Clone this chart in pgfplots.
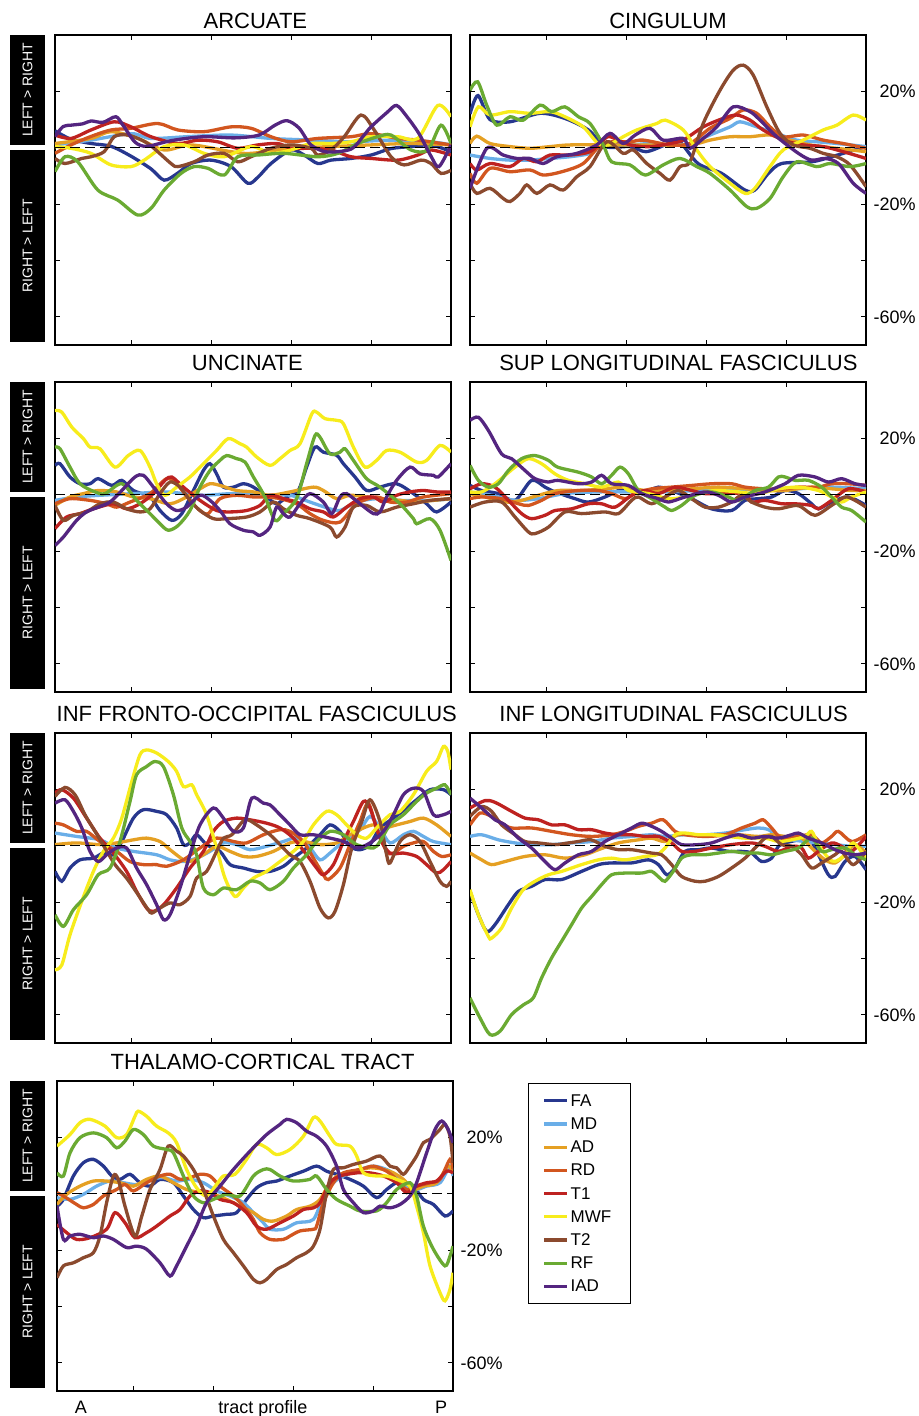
\documentclass[border=0pt]{standalone}
\usepackage{fontspec}
\setmainfont{Liberation Sans}
\usepackage{pgfplots}
\pgfplotsset{compat=1.18}

\definecolor{cFA}{HTML}{27378E}
\definecolor{cMD}{HTML}{6AAEE8}
\definecolor{cAD}{HTML}{E5A023}
\definecolor{cRD}{HTML}{D2561F}
\definecolor{cT1}{HTML}{BE2220}
\definecolor{cMWF}{HTML}{F7EC1C}
\definecolor{cT2}{HTML}{8B4A2E}
\definecolor{cRF}{HTML}{6AAA32}
\definecolor{cIAD}{HTML}{542580}

\pgfplotsset{
  panel/.style={
    scale only axis, width=198pt, height=155pt, anchor=north west,
    xmin=1, xmax=100, ymin=-70, ymax=40,
    xtick={20,40,60,80}, xticklabels={},
    ytick={-60,-40,-20,0,20}, yticklabels={},
    tick align=inside, tick pos=both, major tick length=2.5pt,
    axis line style={line width=0.6pt},
    tick style={line width=0.5pt, black},
    every axis title/.style={font=\fontsize{11}{13}\selectfont, anchor=base, at={(0.5,1)}, yshift=5.8pt},
    every axis plot/.append style={line width=1.65pt, smooth, tension=0.5},
  },
  rlabels/.style={
    yticklabel pos=right,
    yticklabels={-60\%,,-20\%,,20\%},
    yticklabel style={font=\fontsize{9}{11}\selectfont, anchor=east, xshift=25pt, inner sep=0pt},
  },
  FA/.style={color=cFA}, MD/.style={color=cMD}, AD/.style={color=cAD},
  RD/.style={color=cRD}, T1/.style={color=cT1}, MWF/.style={color=cMWF},
  T2/.style={color=cT2}, RF/.style={color=cRF}, IAD/.style={color=cIAD},
  zero/.style={black, line width=0.5pt, dash pattern=on 5pt off 2.5pt, sharp plot, forget plot},
}
\newcommand{\lgd}[1]{\makebox[22pt][l]{#1}}

\begin{document}
\begin{tikzpicture}
\path[use as bounding box] (0pt,0pt) rectangle (459.5pt,-708pt);

% side labels
\fill[black] (5pt,-17.5pt) rectangle (22.5pt,-72.5pt);
\fill[black] (5pt,-75pt) rectangle (22.5pt,-171pt);
\fill[black] (5pt,-191pt) rectangle (22.5pt,-246pt);
\fill[black] (5pt,-248.5pt) rectangle (22.5pt,-344.5pt);
\fill[black] (5pt,-366.5pt) rectangle (22.5pt,-421.5pt);
\fill[black] (5pt,-424pt) rectangle (22.5pt,-520pt);
\fill[black] (5pt,-540.5pt) rectangle (22.5pt,-595.5pt);
\fill[black] (5pt,-598pt) rectangle (22.5pt,-694pt);
\foreach \a/\b in {-45/-123,-218.5/-296.5,-394/-472,-568/-646}{
  \node[rotate=90, text=white, font=\fontsize{7}{8}\selectfont] at (13.75pt,\a pt) {LEFT > RIGHT};
  \node[rotate=90, text=white, font=\fontsize{7}{8}\selectfont] at (13.75pt,\b pt) {RIGHT > LEFT};
}

% ARCUATE
\begin{axis}[panel, at={(27.5pt,-17.5pt)}, title={ARCUATE}, title style={yshift=-2.6pt, xshift=1.2pt}]
\addplot[FA] coordinates {(1,6) (5,3) (10,1.5) (15,0.5) (20,-3) (25,-7.5) (28.3,-11.5) (31.7,-9) (35,-5.6) (40,-4.4) (45,-6.7) (49.2,-12.6) (51.7,-10.5) (55,-5.6) (60,-0.8) (63.3,-2.6) (66.7,-5.6) (70,-4.4) (75,-3.8) (80,-2.6) (85,-0.3) (90,0.4) (95,1) (100,-1.4)};
\addplot[MD] coordinates {(1,1) (10,2.7) (20,5) (25,3.3) (35,4) (45,4.5) (55,3.3) (65,2.7) (75,2.1) (85,2.7) (95,2.1) (100,1)};
\addplot[AD] coordinates {(1,1.5) (10,3.3) (15,5.7) (21.7,3.3) (28.3,-0.8) (35,1) (45,-1.4) (50,-2) (60,-0.2) (70,0.4) (80,1) (90,1.5) (100,1)};
\addplot[RD] coordinates {(1,-2) (5,1) (10,4) (15,6.3) (20,6.9) (26.7,8.6) (31.7,6.3) (38.3,5.7) (45,7.4) (50,6.9) (55,3.9) (60,2.1) (66.7,3.3) (75,3.9) (80,5) (86.7,3.3) (91.7,2.7) (100,1)};
\addplot[T1] coordinates {(1,4.5) (5,3.3) (10,6.3) (15.8,9.2) (20,7.4) (25,3.9) (31.7,1.5) (36.7,2.7) (41.7,2.1) (46.7,-0.2) (51.7,1) (56.7,1.5) (60,-0.2) (65,-0.2) (70,-0.8) (75,-3.2) (80,-3.8) (86.7,-4.4) (91.7,-2.6) (95,-0.8) (100,-2.6)};
\addplot[MWF] coordinates {(1,0.4) (5,-0.2) (10,-2) (15,-6.1) (20,-6.7) (23.3,-4.4) (28.3,0.4) (33.3,1) (38.3,-2) (43.3,-3.2) (50,0.4) (55,-2) (60,-0.8) (65,1.5) (70,1.5) (75,2.1) (80,3.9) (86.7,3.9) (91.7,3.3) (96.7,15) (100,11)};
\addplot[T2] coordinates {(1,-3.8) (3.5,-5.6) (7.7,-3.8) (10,-3.2) (13.3,-1.4) (15.8,3.9) (19.2,4.5) (24.2,1.5) (30,-5.6) (31.7,-6.7) (35.8,-5) (39.2,-2.6) (43.3,-2) (46.7,-5) (50,-3.2) (55,-0.2) (60,1) (65,-0.2) (66.7,-2.6) (70,-0.8) (73.3,3.9) (77.5,11.6) (80.8,6.3) (85,-3.2) (88.3,-6.1) (92.5,-4.4) (95,-5.6) (97.5,-9.1) (100,-8)};
\addplot[RF] coordinates {(1,-8.5) (3.5,-3.2) (6.7,-5) (11.7,-15) (16.7,-18.6) (21.7,-23.9) (25,-21.5) (28.3,-15) (32.5,-9.1) (35.8,-6.7) (39.2,-7.3) (43.3,-9.7) (46.7,-3.2) (51.7,-2.6) (58.3,-2) (66.7,-3.2) (71.7,-2) (76.7,1.5) (81.7,3.9) (85,4.5) (90,-0.8) (94.2,-0.8) (97.5,8) (100,1.5)};
\addplot[IAD] coordinates {(1,4) (3,7.5) (5,8) (8,8.5) (10,9.5) (13,9) (16.2,11) (18,8) (21,2) (24,0.5) (30,2.5) (38,3.9) (46,3.5) (52,4.5) (56,8) (59,9.6) (62,7) (65,1) (69,-1.5) (75,-0.5) (78,4) (80,7.4) (84,12.5) (86.4,15) (89,11) (92,5) (95,-3) (97,-6.7) (100,1)};
\addplot[zero] coordinates {(1,0) (100,0)};
\end{axis}

% CINGULUM
\begin{axis}[panel, rlabels, at={(235pt,-17.5pt)}, title={CINGULUM}, title style={yshift=-2.6pt}]
\addplot[FA] coordinates {(1,12) (3,18.5) (6,10) (11,9.2) (18.5,12.2) (24.7,10.4) (30.6,6.3) (34.8,0.4) (41,0.4) (45,-1.4) (49.8,1) (53,2.7) (58,-5.6) (63.9,-9.1) (69.7,-15) (72.2,-15) (75.6,-9.1) (78.9,-5.6) (86.4,-5) (91.4,-3.2) (100,0.4)};
\addplot[MD] coordinates {(1,-2.6) (6,-3.8) (11,-4.4) (16,-4.4) (21,-3.8) (26,-3.2) (31,-2) (34.3,1) (41,1) (46,1.5) (51,1) (56,1.5) (61,4.5) (66,7.4) (68.5,9.2) (72.7,7.4) (77.7,5) (82.7,2.7) (87.7,2.1) (92.7,1.5) (100,0.4)};
\addplot[AD] coordinates {(1,1.5) (2.7,4.1) (6,1.5) (11,0.4) (16,-0.2) (21,0.4) (26,1) (36,1) (46,1) (56,1) (61,2.7) (66,3.9) (71,3.9) (76,4.5) (81,2.7) (86,1) (92.7,-0.2) (100,-1.4)};
\addplot[RD] coordinates {(1,-9.1) (2.7,-12.6) (6,-7.3) (11,-8.5) (16,-7.9) (19.3,-9.7) (24,-8.5) (29.3,-5.6) (34.3,1.5) (41,2.1) (44.3,2.7) (51,1) (56,1.5) (61,6.9) (66,10.4) (69.3,13.4) (72.7,12.2) (76,7.4) (79.3,3.9) (84.3,4.5) (89.3,2.7) (94.3,1.5) (100,-0.2)};
\addplot[T1] coordinates {(1,-5.6) (2.7,-7.9) (6,-5.6) (11,-6.7) (14.3,-3.8) (17.7,-5) (21,-2.6) (26,-2.6) (31,-1.4) (34.3,2.7) (36,3.9) (41,1) (46,0.4) (51,1.5) (54.3,2.7) (59.3,7.4) (64.3,10.4) (67.7,11.6) (71,9.8) (74.3,6.3) (79.3,2.7) (84.3,1) (89.3,0.4) (94.3,-1.4) (100,-3.8)};
\addplot[MWF] coordinates {(1,7.4) (3.1,14.5) (6,11.6) (11,12.8) (16,12.2) (21,12.8) (24.7,11) (29.3,7.4) (33,1.5) (35.6,1) (39.3,3.9) (42.7,6.3) (47.7,8.6) (49.8,9.8) (54.3,6.3) (57.7,-0.8) (61,-6.7) (66,-12.6) (69.8,-16.2) (72.2,-14.4) (76,-6.7) (79.3,-0.8) (84.3,2.7) (89.3,6.3) (92.7,8) (96.8,11.6) (100,9.8)};
\addplot[T2] coordinates {(1,-12.6) (2.7,-16.2) (6,-14.4) (9.3,-18) (11,-19.1) (13.5,-16.2) (15.2,-13.2) (17.7,-16.2) (21,-13.2) (24.3,-15) (27.7,-10.3) (31,-6.7) (35.2,2.1) (39.3,-2) (41.8,-0.8) (45.2,-5.6) (48.5,-9.1) (51,-11.5) (53.5,-6.7) (56,-5) (59.3,8.6) (63.5,20.4) (66.8,27.5) (69.3,29.3) (71.8,25.8) (75.2,14.5) (78.5,5.1) (81.8,1) (86,-0.2) (89.3,-2) (92.7,-3.2) (96,-6.1) (100,-13.8)};
\addplot[RF] coordinates {(1,20.4) (2.9,23.4) (5.2,15) (7.7,8) (11,11) (14.3,9.8) (18.5,15.1) (21.4,12.8) (24.7,14.5) (28.1,11) (31,8.6) (34.3,1) (36.4,-5) (41,-6.1) (44.8,-9.7) (49.3,-6.1) (53.5,-3.8) (57.7,-6.7) (61,-9.1) (66,-15) (70.2,-20.9) (72.7,-21.5) (76,-18) (79.3,-10.3) (82.7,-5) (87.7,-6.7) (91,-5.6) (96,-6.7) (100,-5.6)};
\addplot[IAD] coordinates {(1,-14.4) (5.2,-0.2) (9.3,-2.6) (12.7,-3.8) (16,-3.8) (19.3,-5.6) (22.7,-3.2) (27.7,-2) (32.7,1) (36,5.1) (39.3,1.5) (42.3,4.5) (46,6.9) (49.3,2.7) (54.3,3.3) (56,-0.2) (59.3,3.3) (62.7,7.4) (66.8,14.5) (71,12.8) (73.5,9.8) (77.7,3.9) (83.1,-2) (86.4,-4.4) (89.8,-3.8) (93.1,-5.6) (96.8,-12.6) (100,-16.2)};
\addplot[zero] coordinates {(1,0) (100,0)};
\end{axis}

% UNCINATE
\begin{axis}[panel, at={(27.5pt,-191pt)}, title={UNCINATE}, title style={xshift=-2.8pt}]
\addplot[FA] coordinates {(1,10.4) (2.25,11) (4.75,6.3) (7.25,3.9) (9.75,3.9) (11.8,5.7) (15.2,3.3) (17.7,5.1) (20.6,1.5) (24.75,-0.8) (27.25,-5.6) (30.2,-9.1) (32.7,-6.7) (35.6,1.5) (38.1,8.6) (39.75,11) (41.4,7.4) (43.1,2.7) (45.6,2.7) (48.1,3.9) (50.6,2.7) (53.9,-0.8) (56.4,-3.2) (58.9,-0.8) (61.8,1.5) (63.9,9.8) (66,16.9) (68.1,15.1) (71.4,14) (73.1,11) (76,6.3) (78.9,1.5) (82.25,2.7) (86.4,3.9) (90.6,0.4) (93.9,-3.2) (96.4,-6.1) (100,-2.6)};
\addplot[MD] coordinates {(1,-2) (6.4,-0.8) (12.25,-0.2) (20.6,0.4) (28.9,1) (37.25,-0.2) (45.6,0.4) (53.9,-0.2) (59.75,-0.2) (64.75,-2.6) (69.75,-5) (72.25,-5.6) (76.4,-2.6) (81.4,-1.4) (87.25,-2) (95.6,-2) (100,-1.4)};
\addplot[AD] coordinates {(1,-3.8) (4.75,-0.8) (8.1,0.4) (11.8,1.5) (16.4,1) (20.6,-0.8) (24.75,-1.4) (29.75,-3.2) (33.9,-0.8) (37.25,2.1) (39.75,3.9) (42.25,3.3) (46.4,1.5) (50.6,1) (54.75,-0.2) (59.75,1) (65.6,2.7) (68.1,1.5) (71.4,-1.4) (74.75,-0.2) (78.9,-0.8) (83.1,-1.4) (87.25,-2) (91.4,-2.6) (95.6,-2) (100,-1.4)};
\addplot[RD] coordinates {(1,-3.2) (4.75,-1.4) (9.75,-2) (13.9,-3.2) (16.4,-4.4) (19.75,-2.6) (24.75,0.4) (28.9,5.7) (31.4,3.9) (34.75,-2) (37.25,-5.6) (39.3,-6.7) (42.25,-1.4) (46.4,-0.2) (50.6,-0.8) (53.9,-0.8) (57.25,-1.4) (61.4,-3.2) (64.75,-6.7) (68.1,-9.1) (72.25,-9.7) (76.4,-3.2) (81.4,-0.8) (84.75,-2.6) (88.9,-2.6) (93.1,-0.8) (100,0.4)};
\addplot[T1] coordinates {(1,-12) (3.9,-7.9) (7.25,-6.7) (10.6,-5) (15.6,-3.2) (18.9,-5) (22.25,-3.2) (25.6,0.4) (28.5,5.1) (30.2,6.3) (33.1,2.7) (37.25,-2) (41.4,-5.6) (44.75,-6.1) (48.9,-5.6) (52.25,-3.8) (54.75,-0.2) (58.1,-1.4) (61.4,-2.6) (64.75,-5) (68.1,-6.1) (70.6,-7.9) (73.9,-4.4) (77.25,-1.4) (80.6,-0.8) (83.1,-2.6) (86.4,-0.2) (89.75,1) (93.1,1.5) (96.4,1) (100,1)};
\addplot[MWF] coordinates {(1,29.9) (2.7,29.3) (5.2,24) (8.1,19.9) (9.75,16.9) (12.25,16.3) (16,9.8) (19.3,13.9) (22.25,15.7) (24.75,9.8) (26.4,3.9) (28.5,-0.2) (31.4,2.7) (34.75,6.3) (37.25,9.8) (41.4,15.7) (44.3,19.9) (47.25,18.1) (48.9,16.9) (51.4,13.4) (54.75,10.4) (57.25,12.8) (59.75,15.7) (62.25,18.1) (65.2,28.7) (66.4,29.3) (68.5,27) (71.4,26.4) (73.1,25.2) (75.6,16.9) (78.5,9.8) (81.4,12.2) (83.9,15.7) (87.25,15.1) (91.4,11.6) (93.9,12.2) (97.25,17.5) (100,15.1)};
\addplot[T2] coordinates {(1,-3.8) (3.1,-9.1) (5.6,-7.3) (8.9,-6.1) (12.25,-3.2) (15.6,-2.6) (18.9,-5) (22.25,-6.1) (24.75,-5) (27.25,0.4) (29.75,4.5) (32.25,2.7) (34.75,-2) (37.25,-5.6) (40.6,-8.5) (43.9,-8.5) (48.9,-7.9) (52.25,-6.1) (55.6,-2.6) (58.1,-5) (61.4,-7.3) (64.75,-8.5) (69.75,-11.5) (71.4,-15) (73.5,-11.5) (75.6,-4.4) (78.9,-3.8) (82.25,-6.1) (86.4,-4.4) (90.6,-3.2) (94.75,-2) (100,-1.4)};
\addplot[RF] coordinates {(1,16.9) (2.25,16.3) (4.75,9.8) (7.25,3.9) (11,1) (13.5,0.4) (17.7,3.9) (21.4,-2) (24.75,-6.7) (27.25,-10.3) (29.3,-12.6) (31.8,-10.9) (34.75,-5.6) (37.25,2.7) (39.75,8.6) (42.25,12.2) (43.9,13.9) (46.4,12.8) (48.5,11.6) (50.6,6.3) (53.5,-0.8) (56,-9.1) (58.1,-6.7) (61.4,-1.4) (63.9,11) (66,21) (67.25,20.4) (69.75,14.5) (72.25,15.1) (73.5,16.3) (75.6,12.2) (78.9,5.7) (82.25,2.7) (87.25,-3.2) (90.6,-8.5) (91.4,-10.3) (94.75,-8.5) (97.25,-12.6) (100,-23.3)};
\addplot[IAD] coordinates {(1,-18) (3.1,-15) (6.4,-9.1) (8.9,-6.1) (11.8,-4.4) (14.75,-2.6) (17.7,1.5) (21,6.3) (23.1,6.9) (25.6,2.7) (28.9,-3.2) (31.4,-5.6) (33.9,-4.4) (37.25,-0.2) (39.75,-2) (42.25,-5.6) (44.75,-10.3) (48.1,-12.6) (50.6,-13.2) (52.25,-14.4) (54.75,-11.5) (56.4,-4.4) (58.1,-6.7) (59.75,-7.9) (62.25,-3.2) (64.75,0.4) (68.1,-2.6) (70.2,-6.7) (72.25,-0.8) (73.9,0.4) (77.25,-3.2) (80.6,-6.7) (82.25,-6.1) (83.9,-0.8) (86.4,5.1) (89.75,9.8) (92.25,7.4) (95.6,6.9) (96.8,6.3) (100,11)};
\addplot[zero] coordinates {(1,0) (100,0)};
\end{axis}

% SUP LONGITUDINAL FASCICULUS
\begin{axis}[panel, rlabels, at={(235pt,-191pt)}, title={SUP LONGITUDINAL FASCICULUS}, title style={xshift=5.2pt}]
\addplot[FA] coordinates {(1,3.3) (3.9,1.5) (8.1,0.4) (12.25,-2) (16.4,5.1) (19.75,2.7) (22.25,1) (27.25,-1.4) (30.6,-2.6) (34.75,-0.8) (38.1,1.5) (40.6,2.7) (43.9,0.4) (48.1,2.7) (52.25,1) (56.4,-1.4) (61.4,-5) (66.4,-5.6) (69.75,-2) (73.1,-1.4) (76.4,-0.8) (79.75,1.5) (83.1,0.4) (86.4,-3.2) (88.1,-5) (91.4,-2.6) (95.6,-0.8) (100,-3.8)};
\addplot[MD] coordinates {(1,1) (6.4,-0.2) (12.25,-2) (18.1,-1.4) (24.75,0.4) (33.1,1) (41.4,1) (49.75,1) (58.1,1.5) (66.4,2.1) (74.75,1.5) (83.1,2.1) (91.4,2.7) (100,2.1)};
\addplot[AD] coordinates {(1,0.4) (4.75,-0.8) (9.75,-2.6) (13.9,-2) (18.1,-0.2) (23.1,1.5) (28.9,1.5) (34.75,2.1) (39.75,2.7) (44.75,1.5) (49.75,1.5) (56.4,2.1) (63.1,2.7) (69.75,2.1) (74.75,1.5) (79.75,1.5) (86.4,2.7) (91.4,2.1) (96.4,1.5) (100,1.5)};
\addplot[RD] coordinates {(1,-1.4) (3.9,-0.8) (8.9,-1.4) (13.1,-3.2) (15.6,-3.8) (18.9,-2) (22.25,0.4) (28.1,1.5) (33.1,1.5) (36.4,0.4) (39.75,-1.4) (42.25,0.4) (46.4,2.1) (51.4,2.7) (56.4,3.3) (61.4,3.9) (66.4,3.9) (69.75,2.7) (74.75,2.1) (79.75,2.1) (83.1,2.7) (88.1,2.7) (91.4,3.9) (95.6,3.9) (100,3.3)};
\addplot[T1] coordinates {(1,2.1) (3.9,3.9) (7.25,2.7) (10.6,-2) (13.9,-6.7) (16.4,-8.5) (19.75,-7.3) (22.25,-5.6) (26.4,-5) (30.6,-3.2) (33.9,-3.2) (37.25,-4.4) (41.4,-0.2) (44.75,1.5) (48.1,0.4) (52.25,2.7) (56.4,1.5) (59.75,0.4) (64.75,0.4) (69.75,0.4) (71.4,-2.6) (74.75,-2) (78.9,-3.2) (82.25,-3.2) (86.4,-3.8) (88.1,-5) (91.4,-2) (95.6,2.1) (100,1)};
\addplot[MWF] coordinates {(1,1) (3.9,1) (7.25,3.9) (12.25,9.8) (15.6,12.8) (18.9,11) (22.25,7.4) (25.6,5.1) (29.75,3.9) (33.9,2.7) (38.1,4.5) (40.6,1.5) (45.6,0.4) (50.6,-1.4) (54.75,-0.8) (59.75,1) (63.1,1.5) (68.1,1) (73.1,0.4) (78.1,2.1) (83.1,2.7) (88.1,1.5) (91.4,-0.8) (93.9,-2.6) (96.4,-0.8) (100,1)};
\addplot[T2] coordinates {(1,-4.4) (4.75,-2.6) (8.9,-2.6) (12.25,-7.9) (15.6,-13.2) (17.25,-13.8) (20.6,-11.5) (24.75,-6.1) (28.9,-6.7) (34.75,-6.1) (38.1,-6.7) (41.4,-2) (43.1,-0.8) (46.4,-3.2) (49.75,-0.8) (53.1,1.5) (56.4,-1.4) (59.75,-4.4) (63.1,-4.4) (66.4,-2.6) (68.9,-0.2) (71.4,-2.6) (74.75,-4.4) (78.1,-5) (82.25,-3.8) (83.9,-4.4) (87.25,-7.3) (91.4,-3.8) (94.75,-0.8) (97.25,-2) (100,-4.4)};
\addplot[RF] coordinates {(1,10.4) (3.1,5.1) (5.6,2.7) (8.1,3.9) (10.6,8.6) (13.9,12.8) (17.25,13.9) (20.6,12.2) (22.9,9.8) (28.1,8) (31.4,6.3) (33.9,3.9) (36.4,6.9) (38.5,9.8) (40.6,7.4) (43.1,1.5) (46.4,-1.4) (49.75,-4.4) (51.4,-5.6) (53.9,-3.8) (57.25,-0.2) (61.4,1) (65.6,-0.8) (68.1,-2) (72.25,1.5) (75.6,2.7) (78.1,6.3) (79.75,6.3) (82.25,5.1) (85.6,5.1) (88.9,2.7) (91.4,-0.8) (93.9,-4.4) (96.4,-5.6) (100,-9.7)};
\addplot[IAD] coordinates {(1,26.4) (3.1,27.5) (5.6,22.8) (8.9,14.5) (11.4,12.8) (14.75,8.6) (17.25,5.7) (20.6,4.5) (22.9,5.1) (28.1,3.9) (31.4,4.5) (33.9,6.9) (36.4,3.9) (40.6,3.3) (43.9,0.4) (48.1,-1.4) (50.6,-2.6) (54.75,-0.8) (59.75,1) (63.1,-0.2) (66.4,-2.6) (69.75,-0.8) (74.75,1) (79.75,3.9) (83.1,6.9) (87.25,6.3) (90.6,4.5) (93.9,5.7) (97.25,3.9) (100,3.3)};
\addplot[zero] coordinates {(1,0) (100,0)};
\end{axis}

% INF FRONTO-OCCIPITAL FASCICULUS
\begin{axis}[panel, at={(27.5pt,-366.5pt)}, title={INF FRONTO-OCCIPITAL FASCICULUS}, title style={xshift=1.9pt}]
\addplot[FA] coordinates {(1,-9.1) (2.7,-12.6) (4.75,-7.9) (7.25,-5) (10.6,-4.4) (13.1,-2.6) (15.6,-3.2) (17.7,1.5) (20.6,9.8) (23.1,12.8) (26.4,12.2) (28.9,11) (31.4,6.3) (33.1,0.4) (34.75,1) (36.4,3.9) (38.9,0.4) (42.25,-2) (44.75,-6.7) (48.1,-7.9) (51.4,-9.1) (54.75,-9.1) (58.1,-7.3) (60.6,-4.4) (63.9,-0.8) (67.25,3.9) (69.75,7.4) (72.25,5.1) (74.75,-0.2) (77.25,-1.4) (79.75,0.4) (82.25,6.3) (85.6,9.8) (88.9,13.4) (91.4,16.3) (94.75,19.9) (98.1,19.9) (100,18.1)};
\addplot[MD] coordinates {(1,4.5) (6.4,3.3) (12.25,2.1) (16.4,-0.8) (20.6,-2) (26.4,-3.2) (29.75,-5) (33.1,-5.6) (36.4,-4.4) (39.75,-2) (43.1,1) (46.4,0.4) (49.75,-1.4) (53.9,-0.2) (58.1,1.5) (61.4,2.7) (64.75,-0.8) (67.25,-5) (69.75,-2.6) (73.1,1.5) (77.25,5.7) (79.75,10.4) (82.25,6.3) (84.75,1) (88.1,3.9) (90.6,5.1) (93.1,3.3) (95.6,1.5) (100,0.4)};
\addplot[AD] coordinates {(1,0.4) (6.4,1) (12.25,0.4) (16.4,1) (20.6,2.1) (23.9,2.7) (27.25,1.5) (29.75,-1.4) (33.1,-5) (34.75,-5.6) (38.1,-3.2) (41.4,-0.2) (44.75,-2) (48.1,-3.8) (51.4,-3.8) (55.6,-2) (59.75,1) (63.1,1.5) (67.25,0.4) (71.4,1) (74.75,3.9) (78.1,6.3) (80.6,7.4) (83.1,6.3) (86.4,7.4) (89.75,8.6) (93.1,9.8) (96.4,7.4) (100,3.3)};
\addplot[RD] coordinates {(1,8) (3.1,7.4) (6.4,5.1) (8.9,5.1) (12.25,1.5) (16.4,-2) (19.75,-5.6) (23.1,-6.7) (26.4,-6.7) (28.9,-7.3) (33.1,-5) (37.25,-0.8) (41.4,2.7) (45.6,1.5) (48.9,1) (53.1,3.9) (57.25,5.7) (59.75,5.1) (63.1,1.5) (65.6,-4.4) (68.1,-10.3) (69.3,-12) (72.25,-7.9) (74.75,0.4) (77.25,8.6) (79.3,15.1) (81.4,6.3) (83.9,-2) (85.6,-2.6) (88.1,-0.2) (90.6,1) (93.1,1.5) (95.6,-2) (97.7,-3.8) (100,-3.2)};
\addplot[T1] coordinates {(1,18.7) (2.7,19.9) (5.6,16.9) (8.9,9.8) (12.25,2.7) (15.6,-2.6) (18.9,-9.1) (21.4,-16.2) (23.9,-22.1) (25.6,-23.3) (28.1,-21) (31.4,-15) (34.75,-7.9) (38.1,-2) (40.6,5.1) (43.1,8.6) (46.4,9.8) (49.75,9.2) (53.9,8) (57.25,6.3) (60.6,2.7) (63.9,-3.2) (66.4,-7.9) (68.1,-10.3) (70.6,-6.7) (73.1,1.5) (75.6,8.6) (78.1,15.7) (79.75,13.4) (82.25,2.7) (84.75,-2.6) (88.1,-2.6) (91.4,-3.8) (93.9,-6.7) (96.4,-9.7) (98.1,-8.5) (100,-5.6)};
\addplot[MWF] coordinates {(1,-44) (2.7,-42.3) (4.75,-31.6) (7.7,-19.7) (10.6,-9.1) (13.1,-2) (15.6,2.7) (17.7,9.8) (20.2,22.8) (22.25,32.3) (23.9,34) (26.4,32.9) (29.3,29.9) (31.4,26.4) (33.1,21) (35.2,21.6) (36.4,18.1) (38.9,11) (41.4,-0.8) (43.5,-11.5) (46,-18) (48.1,-15) (50.6,-11.5) (53.9,-9.1) (57.25,-5.6) (60.6,-2) (63.1,1.5) (65.6,7.4) (68.9,12.2) (71.4,11) (73.9,7.4) (76.4,3.9) (78.9,2.7) (81.4,6.3) (84.75,11) (87.25,12.2) (90.6,18.1) (93.9,26.4) (96.4,29.9) (98.1,35.2) (99.2,33.4) (100,27)};
\addplot[T2] coordinates {(1,17.5) (3.5,20.7) (6,18.1) (8.5,11) (11,5.1) (13.5,-0.8) (16,-6.7) (18.9,-11.5) (21.8,-17.4) (24.3,-22.7) (25.2,-23.9) (27.25,-22.1) (29.75,-20.3) (32.25,-20.9) (34.75,-18) (36.4,-11.5) (38.9,-9.1) (41.4,-2) (43.1,2.7) (45.2,3.9) (48.5,9.2) (51.4,7.4) (54.75,3.9) (57.25,0.4) (59.75,-3.2) (62.25,-5.6) (64.75,-12.6) (67.25,-22.1) (69.3,-25.6) (71,-23.3) (73.1,-13.8) (75.2,-0.8) (77.7,8.6) (79.75,16.3) (82.25,8.6) (83.9,-3.2) (84.75,-6.1) (87.25,1.5) (89.75,3.9) (92.25,1.5) (94.75,-5.6) (97.25,-12.6) (98.9,-14.4) (100,-12.6)};
\addplot[RF] coordinates {(1,-24.5) (3.1,-28.6) (5.6,-22.7) (8.9,-17.4) (11.8,-10.3) (14.75,-7.9) (17.25,1.5) (19.75,15.7) (21.4,25.2) (23.9,28.1) (26,29.9) (28.1,28.1) (30.6,18.1) (32.7,6.3) (34.75,1.5) (36.4,-3.2) (38.1,-15) (40.6,-17.4) (43.1,-15) (46.4,-15.6) (49.75,-12.6) (52.25,-13.2) (54.75,-15.6) (58.1,-12.6) (60.6,-7.9) (63.9,-3.2) (66.4,1.5) (69.75,5.1) (73.1,3.9) (76.4,0.4) (80.6,-0.8) (82.25,1.5) (84.75,7.4) (88.1,11) (91.4,15.7) (93.9,18.7) (96.4,20.4) (98.5,21.6) (100,18.1)};
\addplot[IAD] coordinates {(1,15.1) (3.5,16.3) (5.6,12.2) (7.7,6.3) (9.75,-2) (11.8,-5.6) (13.9,-3.2) (16.4,-0.8) (18.9,-0.8) (21.4,-7.9) (23.9,-13.8) (26.4,-20.9) (28.1,-26.2) (29.75,-24.5) (32.25,-15) (34.75,-3.2) (37.25,7.4) (40.6,13.4) (43.1,9.8) (45.6,5.1) (48.1,6.3) (50.2,16.9) (53.1,15.1) (54.75,14.5) (57.25,11) (59.75,7.4) (62.25,3.9) (65.6,3.9) (69.75,2.7) (73.1,1.5) (76.4,-0.8) (79.75,1) (83.1,5.1) (85.6,11) (88.1,18.1) (90.6,20.4) (93.1,19.3) (95.6,11) (98.1,11) (100,12.2)};
\addplot[zero] coordinates {(1,0) (100,0)};
\end{axis}

% INF LONGITUDINAL FASCICULUS
\begin{axis}[panel, rlabels, at={(235pt,-366.5pt)}, title={INF LONGITUDINAL FASCICULUS}, title style={xshift=2.8pt}]
\addplot[FA] coordinates {(1,-16.2) (3.1,-24.5) (5.2,-30.4) (7.25,-28) (10.6,-20.9) (13.1,-16.2) (16.4,-14.4) (19.75,-12) (23.9,-12) (28.9,-9.1) (33.1,-6.7) (36.4,-6.1) (41.4,-6.1) (45.6,-5) (48.1,-6.7) (50.2,-10.3) (52.25,-7.9) (54.75,-2) (58.1,-1.4) (61.4,-0.8) (65.6,-2) (68.9,-2) (71.4,-2.6) (73.9,-5.6) (76.4,-4.4) (78.1,-0.2) (79.75,1) (83.1,2.1) (85.6,3.3) (88.1,-3.2) (90.6,-10.3) (92.25,-10.9) (94.75,-5.6) (97.25,-3.8) (100,-8.5)};
\addplot[MD] coordinates {(1,3.3) (3.9,3.9) (8.1,2.1) (12.25,1) (16.4,0.4) (21.4,0.4) (26.4,1) (31.4,1.5) (36.4,2.7) (41.4,3.3) (46.4,3.9) (49.75,3.3) (54.75,3.9) (59.75,3.9) (64.75,4.5) (69.75,5.7) (73.1,6.3) (75.6,5.7) (78.1,3.3) (81.4,2.1) (84.75,1.5) (88.1,1) (92.25,0.4) (96.4,-0.2) (100,-0.2)};
\addplot[AD] coordinates {(1,-2.6) (3.9,-5) (6.4,-6.7) (9.75,-5.6) (14.75,-3.8) (19.75,-3.2) (24.75,-4.4) (29.75,-3.2) (33.1,-1.4) (38.1,1) (43.1,2.1) (46.4,2.7) (49.75,1.5) (53.1,3.9) (58.1,3.9) (63.1,3.9) (68.1,3.9) (73.1,3.3) (76.4,3.9) (79.75,3.3) (83.9,2.7) (86.4,-0.8) (89.75,-5) (92.25,-6.1) (94.75,-3.2) (97.25,0.4) (100,-2.6)};
\addplot[RD] coordinates {(1,7.4) (3.5,11.6) (6.4,10.4) (8.9,8) (11.4,6.3) (16.4,6.3) (21.4,5.1) (26.4,3.9) (31.4,3.3) (36.4,3.9) (39.75,5.1) (43.1,6.9) (46.4,8) (49.3,9.2) (52.25,5.1) (54.75,3.9) (59.75,3.3) (64.75,3.9) (68.9,6.3) (72.25,8) (74.3,9.2) (76.4,6.3) (78.9,2.7) (83.1,3.3) (86.4,3.9) (88.9,1) (91.4,3.3) (93.1,5.1) (96.4,1.5) (100,3.9)};
\addplot[T1] coordinates {(1,13.4) (4.75,16) (7.25,15.4) (11.4,12.2) (14.75,9.8) (18.1,9.2) (21.4,7.4) (24.75,7.4) (28.1,5.7) (31.4,5.7) (34.75,4.5) (38.1,3.9) (41.4,3.9) (44.75,3.3) (48.1,3.3) (51.4,1) (53.9,-2) (57.25,-2) (61.4,-0.8) (66.4,0.4) (71.4,1) (74.75,-0.2) (78.1,-2) (81.4,-0.2) (83.9,-0.8) (85.6,-4.4) (88.1,-2) (91.4,1) (93.9,-0.2) (96.4,-2) (100,3.3)};
\addplot[MWF] coordinates {(1,-15.6) (3.1,-24.5) (5.6,-32.2) (6.4,-32.8) (8.9,-29.2) (11.4,-22.1) (14.3,-15.6) (17.25,-12.6) (20.6,-10.3) (23.9,-9.1) (28.9,-6.7) (33.1,-5) (36.4,-4.4) (39.75,-5) (44.75,-3.8) (47.7,-3.2) (49.75,-0.8) (52.25,3.9) (54.75,4.5) (58.1,3.9) (61.4,3.9) (65.6,3.3) (69.75,2.7) (74.75,2.7) (78.1,1.5) (81.4,2.1) (84.75,3.3) (86.4,5.1) (88.1,0.4) (90.6,-4.4) (92.25,-5.6) (94.75,-3.2) (96.8,1) (100,-4.4)};
\addplot[T2] coordinates {(1,10.4) (3.9,13.9) (6.4,12.2) (8.9,7.4) (12.25,3.9) (14.75,1.5) (18.1,1) (22.25,0.4) (25.6,1) (28.1,1.5) (31.25,2.1) (34.75,-0.2) (38.1,-1.4) (41.4,-1.4) (46.4,-2.6) (48.9,-3.2) (51.4,-6.7) (53.9,-10.9) (57.25,-12.6) (59.75,-12.6) (63.1,-10.9) (66.4,-7.9) (69.75,-4.4) (72.25,-0.8) (74.75,2.7) (76.4,3.3) (78.9,0.4) (81.4,-0.2) (83.9,-3.2) (86.4,-7.9) (88.9,-6.1) (92.25,-3.2) (93.9,-2) (96.8,-6.7) (100,-2)};
\addplot[RF] coordinates {(1,-54) (3.5,-61.1) (6,-67) (8.5,-65.8) (11.4,-59.9) (14.3,-56.5) (16.8,-54) (18.9,-46.9) (21.4,-39.8) (23.9,-33.9) (26.4,-28) (28.9,-22.1) (31.4,-18) (33.9,-13.8) (36.4,-10.3) (39.75,-9.7) (43.9,-9.7) (46.4,-9.1) (48.5,-11.5) (49.75,-12.6) (51.8,-9.1) (53.9,-4.4) (56.4,-3.2) (59.75,-3.2) (63.1,-2.6) (66.4,-2) (69.75,-2.6) (73.1,-2.6) (76.4,-3.2) (79.75,-2) (83.1,-0.8) (86.4,2.7) (88.9,-2) (91.4,-1.4) (94.75,-0.8) (97.25,-3.2) (100,-5)};
\addplot[IAD] coordinates {(1,16.9) (3.9,13.4) (7.25,9.2) (9.75,7.4) (13.1,2.7) (16.4,-0.8) (19.75,-5.6) (22.25,-8.5) (24.75,-6.1) (28.1,-3.2) (31.4,-2) (34.75,1.5) (38.1,3.9) (41.4,6.3) (43.9,8) (46.4,6.9) (48.9,5.1) (51.4,2.7) (53.9,0.4) (58.1,0.4) (61.4,1) (64.75,2.7) (68.1,3.9) (71.4,2.7) (74.75,3.3) (78.1,2.7) (81.4,3.9) (83.1,4.5) (85.6,2.7) (88.9,1) (92.25,-1.4) (94.75,-2.6) (97.25,-3.2) (100,-2.6)};
\addplot[zero] coordinates {(1,0) (100,0)};
\end{axis}

% THALAMO-CORTICAL TRACT
\begin{axis}[panel, rlabels, at={(28.5pt,-540.5pt)}, title={THALAMO-CORTICAL TRACT}, title style={xshift=3.8pt},
  legend entries={\lgd{FA},\lgd{MD},\lgd{AD},\lgd{RD},\lgd{T1},\lgd{MWF},\lgd{T2},\lgd{RF},\lgd{IAD}},
  legend cell align=left,
  legend image code/.code={\draw[#1] (0pt,0pt) -- (11.5pt,0pt);},
  legend style={at={(1.189,0.994)}, anchor=north west, draw=black, line width=0.5pt,
    font=\fontsize{8.5}{10}\selectfont, inner xsep=7.25pt, inner ysep=2.9pt, row sep=0pt,
    nodes={inner sep=0.75pt, text height=7.8pt, text depth=2.3pt}},
]
\addplot[FA] coordinates {(1,-4.4) (2.6,-2) (5.1,6.3) (7.6,11) (10.1,12.2) (12.6,9.8) (14.7,6.3) (16.75,5.1) (19.25,6.9) (21.75,3.9) (24.25,2.7) (26.75,5.1) (30.1,3.9) (32.6,-0.8) (35.1,-5.6) (37.6,-8.5) (40.1,-7.9) (43.4,-7.3) (45.9,-6.7) (48.4,-2) (50.9,2.1) (53.4,3.9) (55.9,4.5) (59.25,6.3) (62.6,8) (65.9,9.8) (68.4,8) (70.9,6.9) (74.25,5.1) (77.6,2.7) (80.9,-1.4) (83.4,1.5) (85.9,3.9) (88.4,3.3) (90.1,2.7) (92.6,-2) (95.1,-3.8) (98,-7.9) (100,-6.1)};
\addplot[MD] coordinates {(1,-1.4) (4.25,-2) (7.6,-0.2) (10.9,2.7) (14.25,4.5) (17.6,3.9) (20.9,3.3) (24.25,5.1) (27.6,5.7) (30.9,4.5) (34.25,5.1) (37.6,3.9) (40.9,1) (44.25,-0.8) (47.6,-3.2) (50.1,-6.7) (52.6,-10.3) (54.25,-12.6) (57.6,-12.6) (60.9,-10.3) (65.1,-9.1) (67.6,-0.8) (70.1,3.9) (72.6,6.3) (76.75,8.6) (80.1,9.8) (83.4,8.6) (85.9,6.3) (88.4,2.7) (90.9,1.5) (93.4,2.7) (96.75,3.9) (99.25,9.8) (100,6.3)};
\addplot[AD] coordinates {(1,-3.8) (3.4,-0.2) (6.75,2.7) (10.1,4.5) (13.4,4.5) (16.75,3.9) (20.1,2.7) (23.4,5.1) (26.75,6.3) (30.1,3.9) (33.4,1.5) (36.75,0.4) (40.1,-0.2) (43.4,-2) (46.75,-4.4) (50.1,-6.7) (52.6,-9.1) (55.1,-9.7) (58.4,-7.9) (60.9,-5.6) (64.25,-4.4) (66.75,-2) (69.25,3.9) (71.75,6.9) (75.1,8) (79.25,9.2) (82.6,8.6) (85.1,7.4) (87.6,5.1) (90.1,1.5) (92.6,2.7) (95.9,3.9) (98.8,9.8) (100,7.4)};
\addplot[RD] coordinates {(1,0.4) (2.6,-0.8) (5.9,-3.8) (7.6,-5) (10.1,-3.8) (12.6,-0.8) (15.9,1.5) (18,3.3) (20.1,1) (23.4,3.9) (26.75,6.3) (29.25,6.9) (31.75,5.1) (34.25,5.7) (36.75,6.9) (39.25,6.3) (41.75,2.7) (45.1,-0.8) (47.6,-4.4) (50.1,-9.1) (51.75,-13.8) (54.25,-16.2) (57.6,-16.2) (59.25,-15) (61.75,-13.2) (65.1,-12.6) (65.9,-11.5) (67.6,-3.2) (70.1,3.9) (72.6,7.4) (76.75,8.6) (80.1,9.8) (83.4,8) (85.9,5.1) (88.4,1.5) (90.9,2.7) (94.25,3.9) (96.75,5.1) (99.25,12.2) (100,8.6)};
\addplot[T1] coordinates {(1,-10.9) (3.4,-13.8) (5.9,-16.2) (9.25,-15.6) (13.4,-12.6) (15.5,-6.7) (18,-10.3) (20.5,-15.6) (23.4,-13.8) (25.9,-11.5) (29.25,-7.9) (31.75,-5.6) (34.25,-0.8) (36.75,1) (39.25,0.4) (41.75,-2) (45.1,-3.2) (48.4,-6.7) (50.9,-11.5) (53.4,-12.6) (56.75,-10.3) (60.1,-7.9) (62.6,-5.6) (65.1,-5) (66.75,-3.2) (69.25,3.9) (71.75,6.3) (75.9,7.4) (79.25,7.4) (82.6,6.3) (85.9,3.9) (88.4,0.4) (90.9,2.7) (93.4,3.9) (95.9,4.5) (98.4,8) (100,7.4)};
\addplot[MWF] coordinates {(1,16.9) (4.25,21) (6.75,25.2) (9.25,26.4) (13,24) (15.9,19.9) (18.4,21) (20.5,27.5) (21.3,29.3) (23.4,27.5) (25.9,24) (28.8,21.6) (30.9,18.1) (33.4,8.6) (35.9,2.1) (38.4,-0.8) (40.9,3.3) (42.6,6.3) (45.5,6.9) (48.4,12.2) (50.9,17.5) (53.4,16.3) (55.9,13.9) (59.25,15.7) (62.6,20.4) (65.1,27) (66.75,25.8) (69.25,20.4) (70.9,17.5) (74.25,16.9) (75.9,13.4) (77.6,7.4) (80.9,6.3) (83.4,6.3) (85.9,5.1) (89.25,2.7) (90.9,-4.4) (92.6,-13.8) (94.25,-25.6) (96.75,-35.1) (98,-38) (99.25,-33.9) (100,-28)};
\addplot[T2] coordinates {(1,-29.8) (2.6,-25.6) (5.1,-24.5) (7.6,-22.7) (10.1,-20.9) (11.75,-15) (13.4,-3.2) (15.1,6.3) (16.3,5.1) (18,-4.4) (20.5,-15) (22.2,-7.9) (24.25,1.5) (26.75,8.6) (28.8,16.9) (30.9,15.1) (32.6,13.4) (35.1,8.6) (37.6,1.5) (40.1,-7.9) (42.6,-16.2) (45.1,-20.9) (47.6,-25.6) (50.1,-30.4) (51.75,-31.6) (53.4,-30.4) (55.9,-26.9) (58.4,-25.1) (60.9,-22.7) (63.4,-20.9) (65.1,-18.6) (66.75,-12.6) (68.4,0.4) (70.1,8.6) (72.6,9.2) (75.1,10.4) (78.4,11.6) (81.75,13.4) (84.25,9.8) (85.9,9.2) (87.6,6.9) (89.25,9.8) (90.9,13.4) (92.6,18.1) (94.25,19.3) (96.75,22.8) (98,24.6) (99.25,20.4) (100,11)};
\addplot[RF] coordinates {(1,7.4) (2.6,6.3) (4.25,14.5) (6.75,19.9) (10.1,21.6) (13.4,19.9) (15.9,16.3) (18,18.7) (20.1,22.8) (22.6,21) (25.1,16.9) (28.4,15.7) (30.1,14.5) (32.6,6.3) (35.1,-0.8) (37.6,-3.2) (40.1,-2) (43.4,-0.2) (46.75,-0.8) (50.1,6.3) (52.6,8.6) (54.25,8.6) (56.75,6.3) (60.1,4.5) (64.25,5.1) (65.9,6.3) (68.4,1.5) (70.9,-2) (74.25,-4.4) (76.75,-6.1) (80.9,-6.1) (83.4,-3.2) (85.9,1.5) (89.25,3.9) (90.9,-0.8) (92.6,-11.5) (95.1,-19.7) (98,-25.6) (99.25,-22.1) (100,-18.6)};
\addplot[IAD] coordinates {(1,-4.4) (2.6,-16.2) (4.25,-15) (6.75,-14.4) (10.1,-15.6) (12.6,-15) (15.1,-16.2) (18.4,-19.1) (20.9,-18.6) (23.4,-19.7) (26.75,-24.5) (29.25,-29.2) (30.9,-25.6) (33.4,-18.6) (35.9,-11.5) (38.4,-3.2) (41.75,2.7) (45.1,8.6) (49.25,15.1) (53.4,21) (56.75,24.6) (58.4,26.4) (60.9,25.2) (63.4,22.2) (65.9,20.4) (68.4,16.9) (70.9,9.8) (72.6,1.5) (75.1,-3.2) (77.6,-6.7) (80.1,-6.1) (81.75,-4.4) (84.25,-5) (86.75,-3.8) (89.25,-0.8) (90.9,3.9) (93.4,14.5) (95.5,22.8) (97.2,25.8) (98.8,22.8) (100,18.1)};
\addplot[zero] coordinates {(1,0) (100,0)};
\end{axis}

% x axis texts of the last panel
\node[anchor=base, font=\fontsize{9}{11}\selectfont] at (40.5pt,-706.5pt) {A};
\node[anchor=base, font=\fontsize{9}{11}\selectfont] at (131.5pt,-706.5pt) {tract profile};
\node[anchor=base, font=\fontsize{9}{11}\selectfont] at (220.5pt,-706.5pt) {P};
\end{tikzpicture}
\end{document}
